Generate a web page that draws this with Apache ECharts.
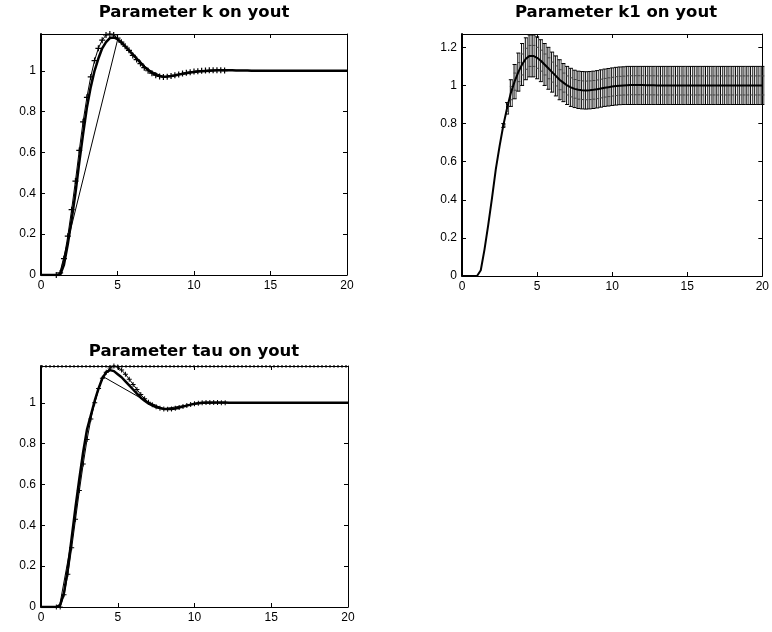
<!DOCTYPE html>
<html>
<head>
<meta charset="utf-8">
<script src="https://cdn.jsdelivr.net/npm/echarts@6/dist/echarts.min.js"></script>
<style>
  html, body { margin: 0; padding: 0; background: #fff; }
  #chart { width: 772px; height: 632px; }
</style>
</head>
<body>
<div id="chart"></div>
<script>
// time samples (s)
const time = [0,0.25,0.5,0.75,1,1.25,1.5,1.75,2,2.25,2.5,2.75,3,3.25,3.5,3.75,4,4.25,4.5,4.75,
  5,5.25,5.5,5.75,6,6.25,6.5,6.75,7,7.25,7.5,7.75,8,8.25,8.5,8.75,9,9.25,9.5,9.75,
  10,10.25,10.5,10.75,11,11.25,11.5,11.75,12,12.25,12.5,12.75,13,13.25,13.5,13.75,14,14.25,14.5,14.75,
  15,15.25,15.5,15.75,16,16.25,16.5,16.75,17,17.25,17.5,17.75,18,18.25,18.5,18.75,19,19.25,19.5,19.75,20];

// Parameter k
const youtK = [0,0,0,0,0, 0,0.05,0.15,0.27,0.40, 0.55,0.69,0.82,0.92,1.0, 1.06,1.11,1.14,1.16,1.163,
  1.155,1.14,1.12,1.10,1.08, 1.06,1.04,1.02,1.005,0.99, 0.98,0.974,0.971,0.972,0.974, 0.977,0.981,0.985,0.988,0.991,
  0.994,0.996,0.998,0.999,1.0, 1.001,1.002,1.002,1.002,1.002, 1.002,1.001,1.001,1.001,1.001,
  1,1,1,1,1, 1,1,1,1,1, 1,1,1,1,1, 1,1,1,1,1, 1,1,1,1,1, 1];

// perturbed runs, t = 1 .. 12
const tPert = [1,1.25,1.5,1.75,2,2.25,2.5,2.75,3,3.25,3.5,3.75,4,4.25,4.5,4.75,5,5.25,5.5,5.75,
  6,6.25,6.5,6.75,7,7.25,7.5,7.75,8,8.25,8.5,8.75,9,9.25,9.5,9.75,10,10.25,10.5,10.75,11,11.25,11.5,11.75,12];
const youtKPert = [0,0.01,0.08,0.19,0.32,0.46,0.61,0.75,0.87,0.97,1.05,1.11,1.15,1.175,1.18,1.175,
  1.16,1.14,1.12,1.1,1.075,1.055,1.035,1.015,1.0,0.988,0.978,0.972,0.97,0.971,0.974,0.978,
  0.982,0.986,0.99,0.993,0.996,0.998,1.0,1.001,1.002,1.002,1.002,1.002,1.001];

const kCoarseT = [0,1.2,5.0,6,7,8,9,10,11,12,20];
const kCoarseY = [0,0,1.15,1.08,1.005,0.971,0.981,0.994,1.0,1.002,1.0];

// Parameter k1
const youtK1 = [0,0,0,0,0, 0.03,0.14,0.27,0.41,0.56, 0.68,0.79,0.88,0.96,1.02, 1.07,1.11,1.14,1.155,1.155,
  1.145,1.13,1.11,1.09,1.07, 1.05,1.03,1.015,1.0,0.99, 0.982,0.977,0.975,0.974,0.975, 0.977,0.98,0.984,0.988,0.991,
  0.994,0.997,0.999,1.0,1.001, 1.002,1.002,1.002,1.002,1.001, 1.001,1.001,
  1,1,1,1,1,1,1,1,1,1, 1,1,1,1,1,1,1,1,1,1, 1,1,1,1,1,1,1,1,1];
const k1High = [0,0,0,0,0, 0.03,0.14,0.27,0.41,0.56, 0.68,0.8,0.91,1.03,1.11, 1.17,1.22,1.25,1.265,1.265,
  1.255,1.24,1.22,1.2,1.175, 1.155,1.135,1.115,1.1,1.09, 1.08,1.075,1.073,1.072,1.073, 1.075,1.078,1.082,1.086,1.089,
  1.092,1.095,1.097,1.098,
  1.1,1.1,1.1,1.1,1.1,1.1,1.1,1.1,1.1,1.1, 1.1,1.1,1.1,1.1,1.1,1.1,1.1,1.1,1.1,1.1,
  1.1,1.1,1.1,1.1,1.1,1.1,1.1,1.1,1.1,1.1, 1.1,1.1,1.1,1.1,1.1,1.1,1.1];
const k1Low = [0,0,0,0,0, 0.03,0.14,0.27,0.41,0.56, 0.68,0.78,0.85,0.89,0.93, 0.97,1.0,1.03,1.045,1.045,
  1.035,1.02,1.0,0.98,0.965, 0.945,0.925,0.915,0.9,0.89, 0.884,0.879,0.877,0.876,0.877, 0.879,0.882,0.886,0.89,0.892,
  0.895,0.897,0.899,
  0.9,0.9,0.9,0.9,0.9,0.9,0.9,0.9,0.9,0.9, 0.9,0.9,0.9,0.9,0.9,0.9,0.9,0.9,0.9,0.9,
  0.9,0.9,0.9,0.9,0.9,0.9,0.9,0.9,0.9,0.9, 0.9,0.9,0.9,0.9,0.9,0.9,0.9,0.9];

// Parameter tau
const youtTau = [0,0,0,0,0, 0.01,0.07,0.19,0.34,0.49, 0.63,0.76,0.87,0.94,1.01, 1.07,1.12,1.15,1.16,1.155,
  1.14,1.125,1.105,1.085,1.065, 1.045,1.025,1.01,0.997,0.987, 0.979,0.974,0.97,0.969,0.969, 0.972,0.976,0.981,0.986,0.991,
  0.995,0.998,1.0,1.001,1.001, 1.001,1.001,1.001,1.001,
  1,1,1,1,1,1,1,1,1,1, 1,1,1,1,1,1,1,1,1,1, 1,1,1,1,1,1,1,1,1,1, 1,1];
const youtTauPert = [0,0,0.06,0.16,0.29,0.43,0.57,0.7,0.82,0.92,1.0,1.07,1.12,1.15,1.17,1.18,
  1.175,1.16,1.14,1.115,1.09,1.065,1.04,1.02,1.003,0.99,0.98,0.973,0.969,0.968,0.97,0.973,
  0.977,0.982,0.987,0.991,0.995,0.998,1.0,1.001,1.001,1.001,1.001,1.0,1.0];
const tauCoarseT = [0,1.2,2,3,4,6.8,8,10,12,20];
const tauCoarseY = [0,0,0.33,0.87,1.13,1.01,0.97,0.995,1.0,1.0];
const tauCapT = [0,20];
const tauCapY = [1.178,1.178];

const titles = ['Parameter k on yout', 'Parameter k1 on yout', 'Parameter tau on yout'];
const yMax = [1.18, 1.27, 1.18];

const chart = echarts.init(document.getElementById('chart'));

const grids = [
  { left: 41, top: 34, width: 306, height: 241 },
  { left: 462, top: 34, width: 308, height: 242 },
  { left: 41, top: 366, width: 307, height: 241 }
];

const labelFont = { color: '#000', fontFamily: 'Liberation Sans', fontSize: 12 };
const plusSymbol = 'path://M4,0h2v4h4v2h-4v4h-2v-4h-4v-2h4z';

function pairs(xs, ys) {
  return xs.map((x, i) => [x, ys[i]]);
}

const xAxes = [], yAxes = [];
grids.forEach((g, i) => {
  const base = {
    gridIndex: i, type: 'value', min: 0, max: 20, interval: 5,
    axisLine: { onZero: false, lineStyle: { color: '#000', width: 1 } },
    axisTick: { inside: true, length: 4, lineStyle: { color: '#000' } },
    splitLine: { show: false }
  };
  xAxes.push(Object.assign({}, base, { position: 'bottom', axisLabel: Object.assign({ margin: 5 }, labelFont) }));
  xAxes.push(Object.assign({}, base, { position: 'top', axisLabel: { show: false } }));
  const ybase = {
    gridIndex: i, type: 'value', min: 0, max: yMax[i], interval: 0.2,
    axisLine: { onZero: false, lineStyle: { color: '#000', width: 1 } },
    axisTick: { inside: true, length: 4, lineStyle: { color: '#000' } },
    splitLine: { show: false }
  };
  yAxes.push(Object.assign({}, ybase, {
    position: 'left',
    axisLine: { onZero: false, lineStyle: { color: '#000', width: 2 } },
    axisLabel: Object.assign({ margin: 5, showMaxLabel: false }, labelFont)
  }));
  yAxes.push(Object.assign({}, ybase, { position: 'right', axisLabel: { show: false } }));
});

function line(idx, data, width, extra) {
  return Object.assign({
    type: 'line', xAxisIndex: idx * 2, yAxisIndex: idx * 2, data: data,
    showSymbol: false, symbol: 'none', lineStyle: { color: '#000', width: width },
    silent: true, z: 3
  }, extra || {});
}

// errorbar drawn as a small hatch: two strokes, caps and a cross tick
function renderErrorBar(params, api) {
  const x = api.value(0);
  const lo = api.coord([x, api.value(1)]);
  const hi = api.coord([x, api.value(2)]);
  const mid = api.coord([x, api.value(3)]);
  if (lo[1] - hi[1] < 3) return null;
  const w = 2;
  const style = { stroke: '#000', lineWidth: 1 };
  const faint = { stroke: '#444', lineWidth: 1 };
  const qa = hi[1] + (mid[1] - hi[1]) * 0.5;
  const qb = mid[1] + (lo[1] - mid[1]) * 0.5;
  return {
    type: 'group',
    children: [
      { type: 'line', shape: { x1: lo[0] - 0.5, y1: lo[1], x2: hi[0] - 0.5, y2: hi[1] }, style: style },
      { type: 'line', shape: { x1: lo[0] + 1.5, y1: lo[1], x2: hi[0] + 1.5, y2: hi[1] }, style: faint },
      { type: 'line', shape: { x1: lo[0] - w, y1: lo[1], x2: lo[0] + w, y2: lo[1] }, style: style },
      { type: 'line', shape: { x1: hi[0] - w, y1: hi[1], x2: hi[0] + w, y2: hi[1] }, style: style },
      { type: 'line', shape: { x1: hi[0] - 1, y1: qa, x2: hi[0] + 2, y2: qa }, style: faint },
      { type: 'line', shape: { x1: lo[0] - 1, y1: qb, x2: lo[0] + 2, y2: qb }, style: faint }
    ]
  };
}

const series = [
  // k
  line(0, pairs(kCoarseT, kCoarseY), 1),
  line(0, pairs(tPert, youtKPert), 1, {
    showSymbol: true, symbol: plusSymbol, symbolSize: 6,
    itemStyle: { color: '#000' }
  }),
  line(0, pairs(time, youtK), 2.5),
  // k1
  {
    type: 'custom', xAxisIndex: 2, yAxisIndex: 2, silent: true,
    data: time.map((t, i) => [t, k1Low[i], k1High[i], youtK1[i]]),
    renderItem: renderErrorBar, z: 2
  },
  line(1, pairs(time, youtK1), 2),
  // tau
  line(2, pairs(tauCapT, tauCapY), 2, { lineStyle: { color: '#000', width: 2, type: 'dotted' } }),
  line(2, pairs(tauCoarseT, tauCoarseY), 1),
  line(2, pairs(tPert, youtTauPert), 1, {
    showSymbol: true, symbol: plusSymbol, symbolSize: 5,
    itemStyle: { color: '#000' }
  }),
  line(2, pairs(time, youtTau), 2.5)
];

const titleCenters = [[194, 4], [616, 4], [194, 343]];
const option = {
  animation: false,
  backgroundColor: '#fff',
  title: titles.map((t, i) => ({
    text: t,
    left: titleCenters[i][0],
    top: titleCenters[i][1],
    textAlign: 'center',
    padding: 0,
    textStyle: { fontFamily: 'DejaVu Sans', fontWeight: 'bold', fontSize: 16.5, color: '#000' }
  })),
  grid: grids,
  xAxis: xAxes,
  yAxis: yAxes,
  series: series
};

chart.setOption(option);
</script>
</body>
</html>
